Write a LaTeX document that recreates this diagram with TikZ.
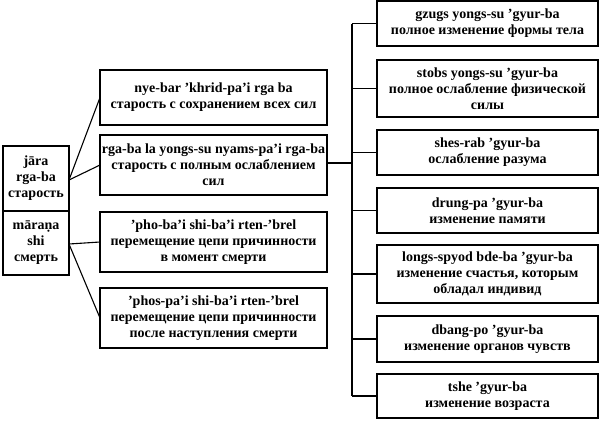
\documentclass[tikz,border=0pt]{standalone}
\usepackage{fontspec}
\setmainfont{Liberation Serif}
\begin{document}
\begin{tikzpicture}[x=1pt,y=-1pt,line width=1.1pt,
  lbl/.style={align=center,inner sep=0pt,font=\fontsize{14}{16}\selectfont\bfseries}]
\useasboundingbox (0,0) rectangle (600,421);
% left
\draw (3,146) rectangle (69,275);
\draw (3,211) -- (69,211);
\node[lbl] (jara) at (36,178.5) {jāra\\rga-ba\\старость};
\node[lbl] (mar) at (36,243) {māraṇa\\shi\\смерть};
\coordinate (jr) at (69,180);
\coordinate (mr) at (69,244);
% middle
\draw (100,70) rectangle (327,125);
\node[lbl] (m1) at (213.5,97.5) {nye-bar 'khrid-pa'i rga ba\\старость с сохранением всех сил};
\draw (100,135) rectangle (327,195);
\node[lbl] (m2) at (213.5,165) {rga-ba la yongs-su nyams-pa'i rga-ba\\старость с полным ослаблением\\сил};
\draw (100,212) rectangle (327,272);
\node[lbl] (m3) at (213.5,242) {'pho-ba'i shi-ba'i rten-'brel\\перемещение цепи причинности\\в момент смерти};
\draw (100,288) rectangle (327,348);
\node[lbl] (m4) at (213.5,318) {'phos-pa'i shi-ba'i rten-'brel\\перемещение цепи причинности\\после наступления смерти};
\coordinate (m1w) at (100,97.5);
\coordinate (m2w) at (100,165);
\coordinate (m3w) at (100,242);
\coordinate (m4w) at (100,318);
\coordinate (m2e) at (327,163);
\draw (jr) -- (m1w); \draw (jr) -- (m2w);
\draw (mr) -- (m3w); \draw (mr) -- (m4w);
% right
\foreach \n/\t/\b/\txt in {
 r1/1/46/{gzugs yongs-su 'gyur-ba\\полное изменение формы тела},
 r2/60/117/{stobs yongs-su 'gyur-ba\\полное ослабление физической\\силы},
 r3/130/175/{shes-rab 'gyur-ba\\ослабление разума},
 r4/188/233/{drung-pa 'gyur-ba\\изменение памяти},
 r5/245/303/{longs-spyod bde-ba 'gyur-ba\\изменение счастья, которым\\обладал индивид},
 r6/316/362/{dbang-po 'gyur-ba\\изменение органов чувств},
 r7/374/418/{tshe 'gyur-ba\\изменение возраста}}{
  \draw (377,\t) rectangle (598,\b);
  \node[lbl] (\n) at (487.5,{(\t+\b)/2}) {\txt};
  \coordinate (\n w) at (377,{(\t+\b)/2});
  \draw (352,{(\t+\b)/2}) -- (\n w);
}
\coordinate (trt) at (352,23.5);
\coordinate (trb) at (352,396);
\draw (trt) -- (trb);
\draw (m2e) -- (352,163);
\end{tikzpicture}
\end{document}
